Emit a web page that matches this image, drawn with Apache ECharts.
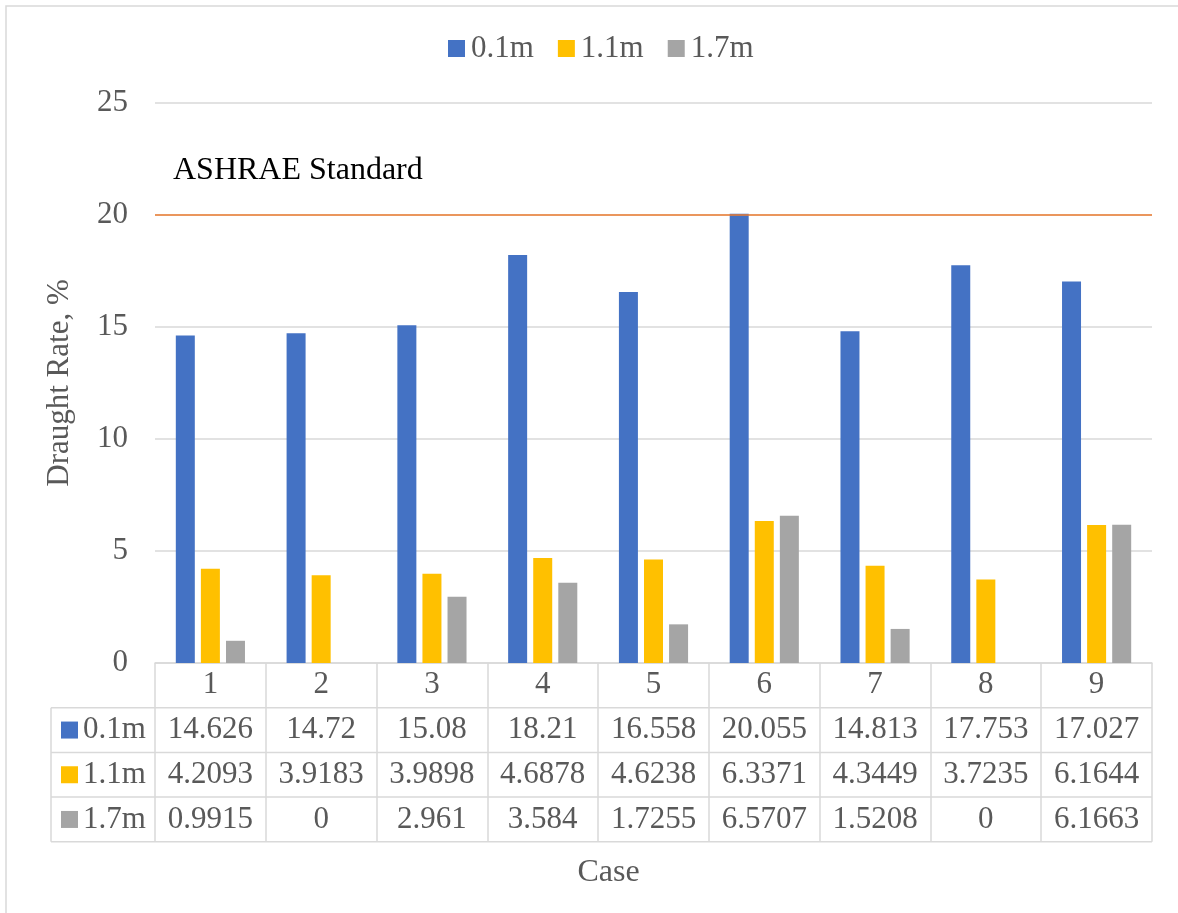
<!DOCTYPE html>
<html>
<head>
<meta charset="utf-8">
<script src="https://cdn.jsdelivr.net/npm/echarts@6/dist/echarts.min.js"></script>
<style>
  html, body { margin: 0; padding: 0; background: #fff; }
  #chart { width: 1178px; height: 913px; }
</style>
</head>
<body>
<div id="chart"></div>
<script>
// Draught rate per case at three measuring heights
const cases = ['1', '2', '3', '4', '5', '6', '7', '8', '9'];
const seriesNames = ['0.1m', '1.1m', '1.7m'];
const h01 = [14.626, 14.72, 15.08, 18.21, 16.558, 20.055, 14.813, 17.753, 17.027];
const h11 = [4.2093, 3.9183, 3.9898, 4.6878, 4.6238, 6.3371, 4.3449, 3.7235, 6.1644];
const h17 = [0.9915, 0, 2.961, 3.584, 1.7255, 6.5707, 1.5208, 0, 6.1663];
const standardLimit = 20;
const standardName = 'ASHRAE Standard';
const yTicks = { min: 0, max: 25, interval: 5 };

const colors = ['#4472C4', '#FFC000', '#A5A5A5'];
const values = [h01, h11, h17];
const FONT = "'Liberation Serif', 'Times New Roman', serif";
const TXT = '#595959';
const RULE = '#D9D9D9';
const FS = 31;

// layout
const W = 1178, H = 913;
const G = { left: 155, right: 26, top: 103, bottom: 250 };
const ROW = 44.7;            // data-table row height
const TABLE_LEFT = 51;

const chart = echarts.init(document.getElementById('chart'), null, { renderer: 'canvas' });

const axisBottom = H - G.bottom;
const tableRight = W - G.right;

// outer frame, data-table rules and row headers
const graphics = [];
graphics.push({
  type: 'rect', silent: true, z: 0,
  shape: { x: 6, y: 6, width: W + 10, height: H + 10 },
  style: { fill: 'none', stroke: RULE, lineWidth: 1.5 }
});
for (let r = 1; r <= 4; r++) {
  const y = axisBottom + ROW * r;
  graphics.push({
    type: 'line', silent: true, z: 1,
    shape: { x1: TABLE_LEFT, y1: y, x2: tableRight, y2: y },
    style: { stroke: RULE, lineWidth: 1.5 }
  });
}
graphics.push({
  type: 'line', silent: true, z: 1,
  shape: { x1: TABLE_LEFT, y1: axisBottom + ROW, x2: TABLE_LEFT, y2: axisBottom + ROW * 4 },
  style: { stroke: RULE, lineWidth: 1.5 }
});
seriesNames.forEach((name, i) => {
  const cy = axisBottom + ROW * (i + 1.5);
  graphics.push({
    type: 'rect', silent: true, z: 2,
    shape: { x: 61, y: cy - 8.5, width: 17, height: 17 },
    style: { fill: colors[i] }
  });
  graphics.push({
    type: 'text', silent: true, z: 2,
    x: 83, y: cy,
    style: { text: name, font: FS + 'px ' + FONT, fill: TXT, textVerticalAlign: 'middle', textAlign: 'left' }
  });
});

const rich = {
  c: { fontFamily: FONT, fontSize: FS, color: TXT, lineHeight: ROW, height: ROW },
  v: { fontFamily: FONT, fontSize: FS, color: TXT, lineHeight: ROW, height: ROW }
};

const option = {
  backgroundColor: '#fff',
  animation: false,
  textStyle: { fontFamily: FONT },
  legend: {
    data: seriesNames,
    left: 443, top: 28,
    icon: 'rect', itemWidth: 17, itemHeight: 17, itemGap: 24,
    textStyle: { fontFamily: FONT, fontSize: FS, color: TXT, padding: [0, 0, 0, 1] }
  },
  grid: { left: G.left, right: G.right, top: G.top, bottom: G.bottom, containLabel: false },
  xAxis: {
    type: 'category',
    data: cases,
    name: 'Case',
    nameLocation: 'middle',
    nameGap: 194,
    nameTextStyle: { fontFamily: FONT, fontSize: 32, color: TXT, padding: [0, 90, 0, 0] },
    axisLine: { lineStyle: { color: RULE, width: 1.5 } },
    axisTick: { show: true, interval: 0, alignWithLabel: false, length: ROW * 4, lineStyle: { color: RULE, width: 1.5 } },
    axisLabel: {
      interval: 0, margin: 0,
      formatter: (v, idx) => ['{c|' + v + '}'].concat(values.map(arr => '{v|' + String(arr[idx]) + '}')).join('\n'),
      rich: rich
    }
  },
  yAxis: {
    type: 'value',
    min: yTicks.min, max: yTicks.max, interval: yTicks.interval,
    name: 'Draught Rate, %',
    nameLocation: 'middle',
    nameGap: 80,
    nameTextStyle: { fontFamily: FONT, fontSize: FS, color: TXT },
    axisLine: { show: false },
    axisTick: { show: false },
    axisLabel: { fontFamily: FONT, fontSize: FS, color: TXT, margin: 27 },
    splitLine: { lineStyle: { color: RULE, width: 1.5 } }
  },
  series: seriesNames.map((name, i) => {
    const s = {
      name: name,
      type: 'bar',
      data: values[i],
      barWidth: 19,
      barGap: '32%',
      itemStyle: { color: colors[i] }
    };
    if (i === seriesNames.length - 1) {
      s.markLine = {
        silent: true,
        symbol: ['none', 'none'],
        z: 10,
        lineStyle: { color: '#ED7D31', width: 1.5, type: 'solid' },
        label: {
          show: true,
          position: 'insideStartTop',
          formatter: standardName,
          fontFamily: FONT, fontSize: 32, color: '#000',
          distance: [18, 28]
        },
        data: [{ yAxis: standardLimit }]
      };
    }
    return s;
  }),
  graphic: graphics
};

chart.setOption(option);
</script>
</body>
</html>
